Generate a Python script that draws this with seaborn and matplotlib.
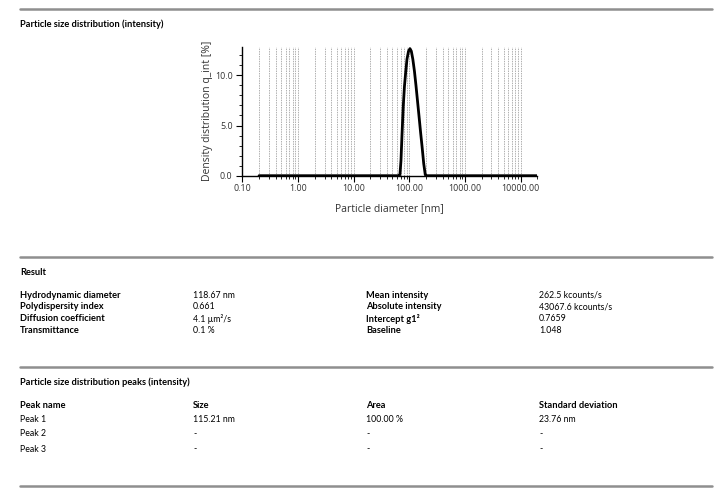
import numpy as np
import pandas as pd
import matplotlib
matplotlib.use("Agg")
import matplotlib.pyplot as plt
from matplotlib.lines import Line2D
from matplotlib.ticker import LogLocator, FixedLocator, MultipleLocator, FixedFormatter
import seaborn as sns

# ---------------- data ----------------
diameter_nm = [0.2, 1, 10, 50, 65, 68, 71, 74, 78, 82, 86, 91, 97, 103, 109, 116,
               124, 132, 141, 150, 160, 170, 182, 194, 200, 1000, 20000]
density_pct = [0, 0, 0, 0, 0, 0.1, 1.5, 4.0, 6.9, 8.9, 10.2, 11.6, 12.4, 12.66, 12.4, 11.6,
               10.4, 9.0, 7.4, 5.9, 4.3, 2.9, 1.2, 0.1, 0, 0, 0]

x_ticks = [0.1, 1, 10, 100, 1000, 10000]
x_tick_labels = ["0.10", "1.00", "10.00", "100.00", "1000.00", "10000.00"]
y_ticks = [0, 5, 10]
y_tick_labels = ["0.0", "5.0", "10.0"]

result_left_names = ["Hydrodynamic diameter", "Polydispersity index", "Diffusion coefficient", "Transmittance"]
result_left_values = ["118.67 nm", "0.661", "4.1 µm²/s", "0.1 %"]
result_right_names = ["Mean intensity", "Absolute intensity", "Intercept g1²", "Baseline"]
result_right_values = ["262.5 kcounts/s", "43067.6 kcounts/s", "0.7659", "1.048"]

peak_headers = ["Peak name", "Size", "Area", "Standard deviation"]
peak_rows = [["Peak 1", "115.21 nm", "100.00 %", "23.76 nm"],
             ["Peak 2", "-", "-", "-"],
             ["Peak 3", "-", "-", "-"]]

# ---------------- figure ----------------
sns.set_theme(style="white")
plt.rcParams['font.family'] = ['Open Sans', 'DejaVu Sans']

W, H = 719, 495
fig = plt.figure(figsize=(W / 100, H / 100), dpi=100)

def fx(px):
    return px / W

def fy(py):
    return 1 - py / H

ax = fig.add_axes([fx(242.3), fy(175.7), fx(537.3) - fx(242.3), fy(46.7) - fy(175.7)])
df = pd.DataFrame({"d": diameter_nm, "q": density_pct})
sns.lineplot(data=df, x="d", y="q", ax=ax, color="black", linewidth=2.0, sort=False)
ax.set_xscale("log")
ax.set_xlim(0.1, 20000)
ax.set_ylim(0, 12.85)

ax.xaxis.set_major_locator(FixedLocator(x_ticks))
ax.xaxis.set_major_formatter(FixedFormatter(x_tick_labels))
ax.xaxis.set_minor_locator(LogLocator(base=10, subs=np.arange(2, 10), numticks=20))
ax.xaxis.set_minor_formatter(FixedFormatter([]))
ax.yaxis.set_major_locator(FixedLocator(y_ticks))
ax.yaxis.set_major_formatter(FixedFormatter(y_tick_labels))
ax.yaxis.set_minor_locator(MultipleLocator(1))

ax.grid(True, which="both", axis="x", color="#b0b0b0", linestyle=(0, (1.5, 1)), linewidth=0.7)
ax.grid(False, axis="y")
for s in ["top", "right"]:
    ax.spines[s].set_visible(False)
for s in ["left", "bottom"]:
    ax.spines[s].set_color("black")
    ax.spines[s].set_linewidth(1.0)

ax.tick_params(axis="both", which="major", direction="out", length=4, width=0.8,
               color="black", labelsize=6.4, labelcolor="#333333", pad=3,
               bottom=True, left=True)
ax.tick_params(axis="x", which="major", pad=2)
ax.tick_params(axis="both", which="minor", direction="out", length=2.5, width=0.6,
               color="black", bottom=True, left=True)
ax.set_xlabel("Particle diameter [nm]", fontsize=7.5, color="#333333", labelpad=7)
ax.set_ylabel("Density distribution q_int [%]", fontsize=7.5, color="#333333", labelpad=1)

# ---------------- report text ----------------
RULE_C = "#8f8f8f"
for yy in [9, 257.3, 367.3, 486]:
    fig.add_artist(Line2D([fx(20), fx(712)], [fy(yy), fy(yy)], color=RULE_C, linewidth=1.8))

TFONT = ['Lato', 'DejaVu Sans']

def txt(x, y, s, bold=False):
    fig.text(fx(x), fy(y), s, fontsize=6.65 if bold else 6.3, family=TFONT, color="black",
             fontweight="bold" if bold else "normal", ha="left", va="center")

txt(20, 24, "Particle size distribution (intensity)", bold=True)
txt(20, 272.7, "Result", bold=True)
row_y = [295, 306.7, 318.7, 330.5]
for i, yy in enumerate(row_y):
    txt(20, yy, result_left_names[i], bold=True)
    txt(193, yy, result_left_values[i])
    txt(366, yy, result_right_names[i], bold=True)
    txt(539, yy, result_right_values[i])

txt(20, 382.7, "Particle size distribution peaks (intensity)", bold=True)
cols = [20, 193, 366, 539]
for c, h in zip(cols, peak_headers):
    txt(c, 405.7, h, bold=True)
for r, yy in zip(peak_rows, [420, 434, 449]):
    for c, v in zip(cols, r):
        txt(c, yy, v)

fig.savefig("out.png", dpi=100)
